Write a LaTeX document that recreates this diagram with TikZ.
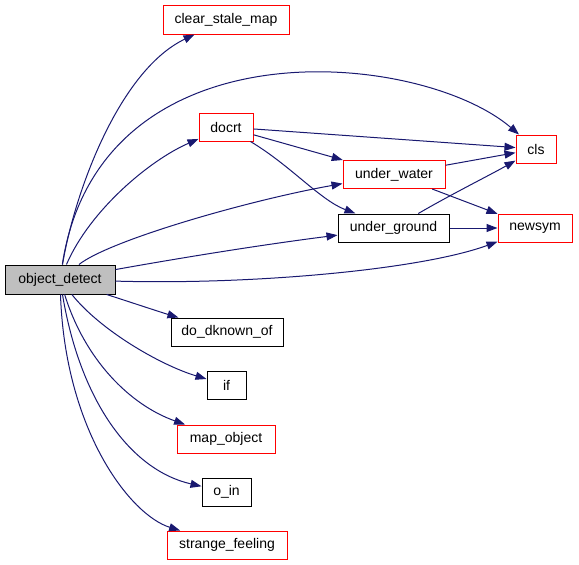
\documentclass[tikz,border=0pt]{standalone}
\usepackage{fontspec}
\setmainfont{Liberation Sans}
\usetikzlibrary{arrows.meta}
\definecolor{edgeblue}{RGB}{25,25,112}
\definecolor{nodegray}{RGB}{191,191,191}
\definecolor{boxred}{RGB}{255,0,0}

\begin{document}
\begin{tikzpicture}[x=1pt, y=1pt,
    fn/.style={draw=black, line width=1pt, inner sep=0pt, minimum height=28pt,
               font=\fontsize{14}{16}\selectfont},
    fnred/.style={draw=boxred, line width=1pt, inner sep=0pt, minimum height=28pt,
               font=\fontsize{14}{16}\selectfont},
    call/.style={draw=edgeblue, line width=1pt,
                 -{Triangle[length=11pt, width=8pt, fill=edgeblue]}}]
  \useasboundingbox (0,0) rectangle (579,-565);

  % nodes
  \node[fn, fill=nodegray, minimum width=110pt, minimum height=29pt] (objdet) at (60,-279.5) {object\_detect};
  \node[fnred, minimum width=126pt, minimum height=29pt] (clearmap) at (226,-19.5) {clear\_stale\_map};
  \node[fnred, minimum width=54pt] (docrt) at (226,-127) {docrt};
  \node[fnred, minimum width=102pt] (water) at (394,-174.5) {under\_water};
  \node[fn, minimum width=111pt] (ground) at (393.5,-228) {under\_ground};
  \node[fnred, minimum width=40pt] (cls) at (536,-149) {cls};
  \node[fnred, minimum width=74pt] (newsym) at (535,-228) {newsym};
  \node[fn, minimum width=112pt] (dknown) at (227,-332) {do\_dknown\_of};
  \node[fn, minimum width=39pt] (ifn) at (226.5,-385) {if};
  \node[fnred, minimum width=98pt] (mapobj) at (226,-439) {map\_object};
  \node[fn, minimum width=49pt] (oin) at (226.5,-492) {o\_in};
  \node[fnred, minimum width=120pt] (strange) at (227,-545) {strange\_feeling};

  % calls from object_detect
  \draw[call] (objdet) .. controls (75,-190) and (120,-70) .. (clearmap);
  \draw[call] (objdet) .. controls (100,-20) and (420,-50) .. (cls);
  \draw[call] (objdet) .. controls (90,-210) and (150,-160) .. (docrt);
  \draw[call] (objdet) .. controls (110,-240) and (250,-200) .. (water);
  \draw[call] (objdet) .. controls (180,-258) and (260,-245) .. (ground);
  \draw[call] (objdet) .. controls (250,-285) and (420,-270) .. (newsym);
  \draw[call] (objdet) .. controls (130,-302) and (160,-312) .. (dknown);
  \draw[call] (objdet) .. controls (100,-330) and (160,-365) .. (ifn);
  \draw[call] (objdet) .. controls (85,-360) and (130,-405) .. (mapobj);
  \draw[call] (objdet) .. controls (80,-400) and (130,-470) .. (oin);
  \draw[call] (objdet) .. controls (65,-430) and (130,-515) .. (strange);

  % inner calls
  \draw[call] (docrt) -- (cls);
  \draw[call] (docrt) -- (water);
  \draw[call] (docrt) .. controls (290,-165) and (320,-200) .. (ground);
  \draw[call] (water) -- (cls);
  \draw[call] (water) -- (newsym);
  \draw[call] (ground) .. controls (450,-195) and (490,-175) .. (cls);
  \draw[call] (ground) -- (newsym);
\end{tikzpicture}
\end{document}
